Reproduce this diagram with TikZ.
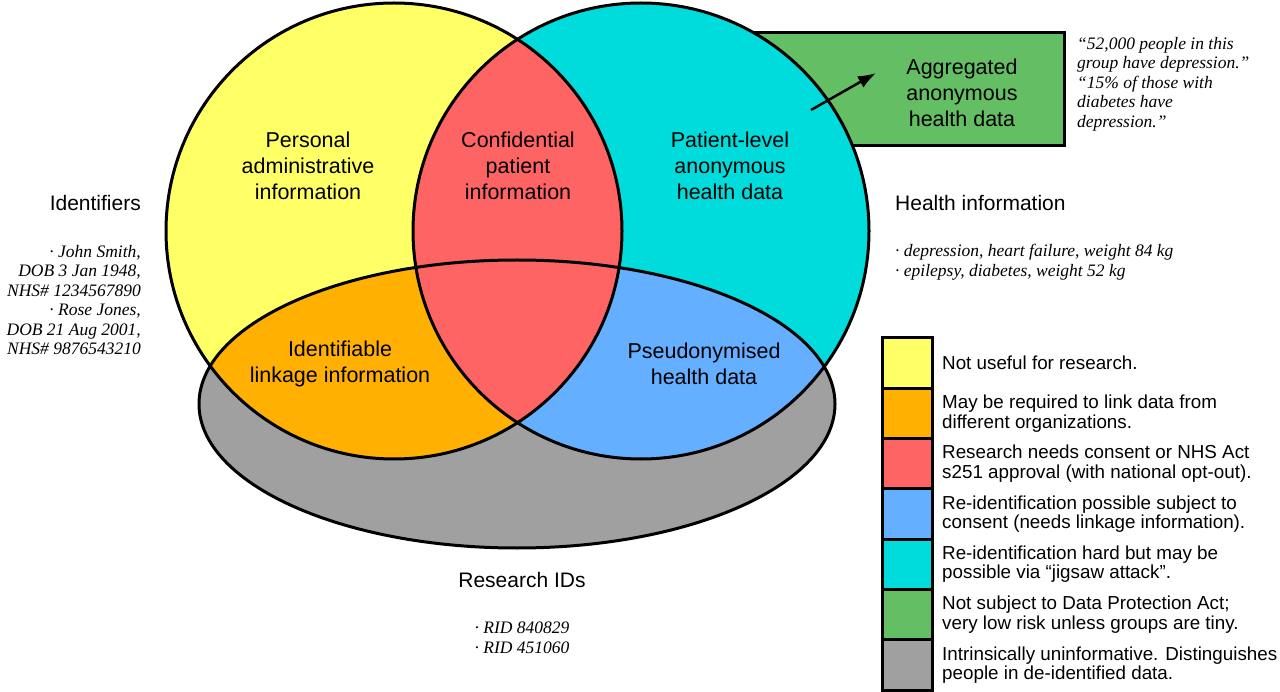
\documentclass[tikz,border=0pt]{standalone}
\usepackage{fontspec}
\newfontfamily\labelfont{Liberation Sans}
\newfontfamily\notefont{Liberation Serif}
\usepackage{xcolor}
\usepackage{tikz}
\usetikzlibrary{positioning,arrows.meta}
\definecolor{adminfill}{RGB}{255,255,102}
\definecolor{linkfill}{RGB}{255,176,0}
\definecolor{confidfill}{RGB}{255,100,100}
\definecolor{pseudofill}{RGB}{100,175,255}
\definecolor{healthfill}{RGB}{0,220,220}
\definecolor{aggfill}{RGB}{100,190,100}
\definecolor{ridfill}{RGB}{160,160,160}

\begin{document}
\begin{tikzpicture}[
    x=1pt, y=-1pt,
    outline/.style={draw=black, line width=3pt},
    region/.style={font=\labelfont\fontsize{21.5}{26}\selectfont, align=center, inner sep=0pt},
    heading/.style={font=\labelfont\fontsize{21}{26}\selectfont, inner sep=0pt},
    example/.style={font=\notefont\itshape\fontsize{17.5}{19.5}\selectfont, inner sep=0pt},
    swatch/.style={draw, line width=3pt, rectangle, minimum width=50pt, minimum height=50.3pt, inner sep=0pt, outer sep=0pt},
    keytext/.style={font=\labelfont\fontsize{18.8}{19.5}\selectfont, align=left, anchor=west, inner sep=0pt}
]
\useasboundingbox (0,0) rectangle (1280,692);

\coordinate (admin) at (394,231);
\coordinate (health) at (641,231);
\coordinate (rid) at (517,404);

\draw[outline, fill=aggfill] (700,33) rectangle (1064,146);

\fill[ridfill] (rid) ellipse [x radius=318, y radius=144];
\fill[adminfill] (admin) circle [radius=228];
\fill[healthfill] (health) circle [radius=228];
\begin{scope}
    \clip (rid) ellipse [x radius=318, y radius=144];
    \fill[linkfill] (admin) circle [radius=228];
    \fill[pseudofill] (health) circle [radius=228];
\end{scope}
\begin{scope}
    \clip (admin) circle [radius=228];
    \fill[confidfill] (health) circle [radius=228];
\end{scope}
\draw[outline] (admin) circle [radius=228];
\draw[outline] (health) circle [radius=228];
\draw[outline] (rid) ellipse [x radius=318, y radius=144];

\node[region] (personal) at (308,166) {Personal\\administrative\\information};
\node[region] (confidential) at (518,166) {Confidential\\patient\\information};
\node[region] (patient) at (730,166) {Patient-level\\anonymous\\health data};
\node[region] (linkage) at (340,364) {Identifiable\\linkage information};
\node[region] (pseudo) at (704,364) {Pseudonymised\\health data};
\node[region] (agg) at (962,93) {Aggregated\\anonymous\\health data};

\coordinate (arrowtail) at (811,110);
\coordinate (arrowtip) at (876,73);
\draw[line width=2.5pt, -{Latex[length=18pt,width=13pt]}] (arrowtail) -- (arrowtip);

\node[heading, anchor=east] (idhead) at (141,203) {Identifiers};
\node[example, anchor=east, align=right] (idnotes) at (141,300) {· John Smith,\\DOB 3 Jan 1948,\\NHS\# 1234567890\\· Rose Jones,\\DOB 21 Aug 2001,\\NHS\# 9876543210};
\node[heading, anchor=west] (healthhead) at (895,203) {Health information};
\node[example, anchor=west, align=left] (healthnotes) at (895,262) {· depression, heart failure, weight 84 kg\\· epilepsy, diabetes, weight 52 kg};
\node[heading] (ridhead) at (522,580) {Research IDs};
\node[example, align=left] (ridnotes) at (522,638) {· RID 840829\\· RID 451060};
\node[example, anchor=west, align=left] (quote) at (1077,84) {“52,000 people in this\\group have depression.”\\“15\% of those with\\diabetes have\\depression.”};

\node[swatch, fill=adminfill] (key1) at (907,363.15) {};
\node[swatch, fill=linkfill, below=0pt of key1] (key2) {};
\node[swatch, fill=confidfill, below=0pt of key2] (key3) {};
\node[swatch, fill=pseudofill, below=0pt of key3] (key4) {};
\node[swatch, fill=healthfill, below=0pt of key4] (key5) {};
\node[swatch, fill=aggfill, below=0pt of key5] (key6) {};
\node[swatch, fill=ridfill, below=0pt of key6] (key7) {};

\node[keytext, right=10pt of key1] (note1) {Not useful for research.};
\node[keytext, right=10pt of key2] (note2) {May be required to link data from\\different organizations.};
\node[keytext, right=10pt of key3] (note3) {Research needs consent or NHS Act\\s251 approval (with national opt-out).};
\node[keytext, right=10pt of key4] (note4) {Re-identification possible subject to\\consent (needs linkage information).};
\node[keytext, right=10pt of key5] (note5) {Re-identification hard but may be\\possible via “jigsaw attack”.};
\node[keytext, right=10pt of key6] (note6) {Not subject to Data Protection Act;\\very low risk unless groups are tiny.};
\node[keytext, right=10pt of key7] (note7) {Intrinsically uninformative. Distinguishes\\people in de-identified data.};
\end{tikzpicture}
\end{document}
